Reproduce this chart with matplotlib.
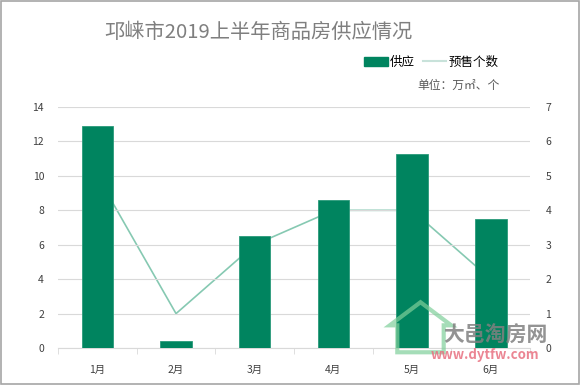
import matplotlib
matplotlib.use("Agg")
import matplotlib.pyplot as plt
import numpy as np
from matplotlib.lines import Line2D
from matplotlib.patches import Patch

plt.rcParams["font.family"] = ["Noto Sans CJK SC", "DejaVu Sans"]

months = ["1月", "2月", "3月", "4月", "5月", "6月"]
supply = [12.9, 0.4, 6.5, 8.6, 11.3, 7.5]
presale = [5, 1, 3, 4, 4, 2]

bar_color = "#00845f"
line_color = "#86c9b2"
grid_color = "#d9d9d9"
tick_color = "#404040"

fig = plt.figure(figsize=(5.8, 3.85), dpi=100)
ax = fig.add_axes([0.1, 0.096, 0.814, 0.626])
ax2 = ax.twinx()

x = np.arange(len(months))

# line behind the bars
ax2.plot(x, presale, color=line_color, lw=1.2, zorder=1)
ax2.set_ylim(0, 7)
ax2.set_yticks(range(0, 8))
ax.set_zorder(ax2.get_zorder() + 1)
ax.patch.set_visible(False)

ax.bar(x, supply, width=0.4, color=bar_color, edgecolor="#2a9a7a", lw=0.6, zorder=3)
ax.set_ylim(0, 14)
ax.set_yticks(range(0, 15, 2))
ax.set_xlim(-0.5, 5.5)
ax.set_xticks(x)
ax.set_xticklabels(months)
ax.set_xticks(np.arange(-0.5, 6, 1), minor=True)
ax.grid(axis="y", color=grid_color, lw=0.8, zorder=0)
ax.set_axisbelow(True)

for a in (ax, ax2):
    for s in a.spines.values():
        s.set_visible(False)
ax.spines["bottom"].set_visible(True)
ax.spines["bottom"].set_color(grid_color)

ax.tick_params(axis="y", length=0, pad=10, labelsize=7.5, labelcolor=tick_color)
ax.tick_params(axis="x", which="major", length=0, pad=12, labelsize=7.5, labelcolor=tick_color)
ax.tick_params(axis="x", which="minor", length=4, color=grid_color)
ax2.tick_params(axis="y", length=0, pad=11, labelsize=7.5, labelcolor=tick_color)

fig.text(0.445, 0.915, "邛崃市2019上半年商品房供应情况", ha="center", va="center",
         fontsize=14.6, color="#7f7f7f")

handles = [Patch(color=bar_color), Line2D([], [], color="#c8e2da", lw=1.5)]
fig.legend(handles, ["供应", "预售个数"], loc="center right",
           bbox_to_anchor=(0.86, 0.838), ncol=2, frameon=False, fontsize=9,
           handlelength=1.9, handleheight=0.7, handletextpad=0.2, columnspacing=0.6,
           borderpad=0, borderaxespad=0)
fig.text(0.862, 0.778, "单位：万㎡、个", ha="right", va="center", fontsize=8.5,
         color="#595959")

# watermark
house = plt.Polygon([(0.685, 0.085), (0.685, 0.155), (0.672, 0.155), (0.725, 0.215),
                     (0.778, 0.155), (0.765, 0.155), (0.765, 0.085)],
                    transform=fig.transFigure, fill=False, edgecolor="#7fcf9a",
                    lw=3, alpha=0.7)
fig.patches.append(house)
fig.text(0.945, 0.13, "大邑淘房网", ha="right", va="center", fontsize=15,
         fontweight="bold", color="#808080", alpha=0.85)
fig.text(0.93, 0.078, "www.dytfw.com", ha="right", va="center", fontsize=9.5,
         fontweight="bold", color="#e87080", alpha=0.85)

fig.patches.append(plt.Rectangle((0.001, 0.002), 0.997, 0.995, transform=fig.transFigure,
                                 fill=False, edgecolor="#a6a6a6", lw=1.2))

fig.savefig("out.png", dpi=100)
